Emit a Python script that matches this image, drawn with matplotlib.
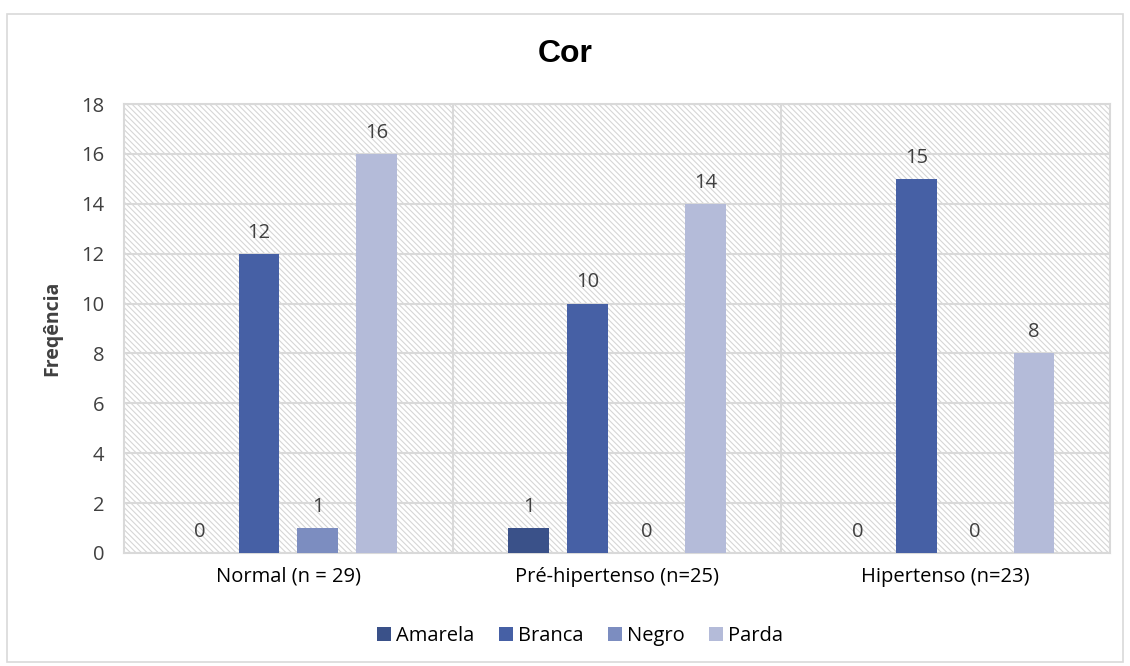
import matplotlib
matplotlib.use("Agg")
import matplotlib.pyplot as plt
from matplotlib.patches import Rectangle
import numpy as np

categories = ["Normal (n = 29)", "Pré-hipertenso (n=25)", "Hipertenso (n=23)"]
series_names = ["Amarela", "Branca", "Negro", "Parda"]
amarela = [0, 1, 0]
branca = [12, 10, 15]
negro = [1, 0, 0]
parda = [16, 14, 8]
series_values = [amarela, branca, negro, parda]
colors = ["#3A5189", "#4660A5", "#7C8DC0", "#B4BBD9"]
yticks = [0, 2, 4, 6, 8, 10, 12, 14, 16, 18]

font = "Open Sans"
plt.rcParams["font.family"] = [font, "DejaVu Sans"]
plt.rcParams["hatch.linewidth"] = 0.8
plt.rcParams["hatch.color"] = "#D6D6D6"

fig = plt.figure(figsize=(11.3, 6.66), dpi=100)
fig.patches.append(Rectangle((7/1130, 1 - 662/666), 1116/1130, 648/666, transform=fig.transFigure,
                             fill=False, edgecolor="#D9D9D9", linewidth=1.2))
ax = fig.add_axes([124/1130, 1 - 553/666, 986/1130, 449/666])

ax.add_patch(Rectangle((0, 0), 1, 1, transform=ax.transAxes, facecolor="white",
                       edgecolor="#D6D6D6", hatch="\\" * 6, linewidth=0, zorder=0))

x = np.arange(len(categories))
width = 0.124
step = 0.179
fs = 14.5
for i, (name, vals, c) in enumerate(zip(series_names, series_values, colors)):
    pos = x + (i - 1.5) * step
    ax.bar(pos, vals, width=width, color=c, label=name, zorder=3)
    for px, v in zip(pos, vals):
        ax.annotate(str(v), (px, v), xytext=(0, 8), textcoords="offset points",
                    ha="center", va="bottom", fontsize=fs, color="#404040", zorder=4)

ax.set_xlim(-0.5, len(categories) - 0.5)
ax.set_ylim(0, 18)
ax.set_yticks(yticks)
ax.set_yticklabels([str(t) for t in yticks], fontsize=fs, color="#404040")
ax.set_xticks(x)
ax.set_xticklabels(categories, fontsize=fs, color="#000000")
ax.tick_params(axis="y", length=0, pad=14)
ax.tick_params(axis="x", length=0, pad=10)
ax.grid(axis="y", color="#D9D9D9", linewidth=1.5, zorder=1)
for b in [0.5, 1.5]:
    ax.axvline(b, color="#D9D9D9", linewidth=1.5, zorder=1)
for s in ax.spines.values():
    s.set_color("#D9D9D9")
    s.set_linewidth(1.5)
ax.set_axisbelow(True)

ax.set_ylabel("Freqência", fontsize=14, fontweight="bold", color="#404040", labelpad=14)
fig.text(0.5, 1 - 54/666, "Cor", ha="center", va="center", fontsize=23, fontweight="bold",
         family=["Liberation Sans", "DejaVu Sans"])

leg = ax.legend(loc="center", bbox_to_anchor=((580 - 124) / 986, -(636 - 553) / 449), ncol=4,
                frameon=False, fontsize=fs, handlelength=0.7, handleheight=0.7,
                handletextpad=0.25, columnspacing=1.2)

fig.savefig("out.png", dpi=100)
